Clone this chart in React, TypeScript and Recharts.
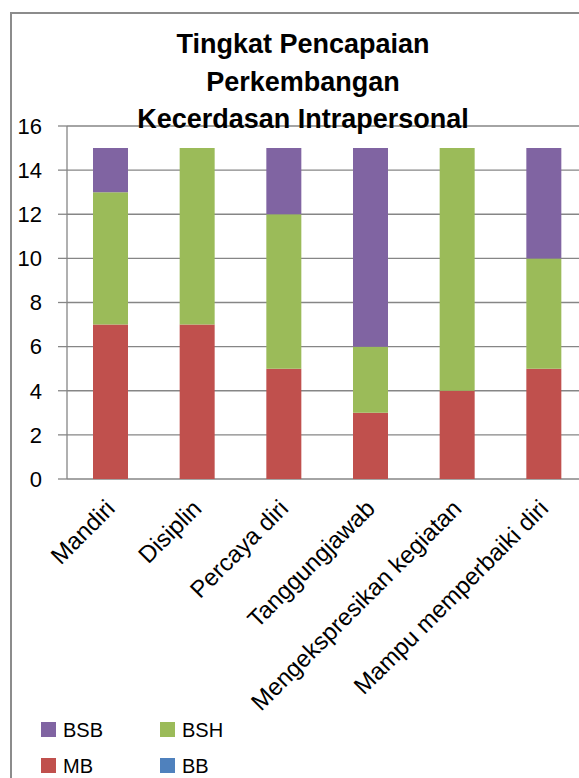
import React from "react";
import { BarChart, Bar, XAxis, YAxis, CartesianGrid } from "recharts";

const categories = [
  "Mandiri",
  "Disiplin",
  "Percaya diri",
  "Tanggungjawab",
  "Mengekspresikan kegiatan",
  "Mampu memperbaiki diri",
];
const bbValues = [0, 0, 0, 0, 0, 0];
const mbValues = [7, 7, 5, 3, 4, 5];
const bshValues = [6, 8, 7, 3, 11, 5];
const bsbValues = [2, 0, 3, 9, 0, 5];
const yTicks = [0, 2, 4, 6, 8, 10, 12, 14, 16];
const edgeTicks = [0, 1, 2, 3, 4, 5, 6];
const titleLines = ["Tingkat Pencapaian", "Perkembangan", "Kecerdasan Intrapersonal"];

const series = [
  { key: "BB", color: "#4F81BD" },
  { key: "MB", color: "#C0504D" },
  { key: "BSH", color: "#9BBB59" },
  { key: "BSB", color: "#8064A2" },
];
// legend order as drawn in the reference: BSB, BSH / MB, BB
const legendOrder = ["BSB", "BSH", "MB", "BB"];

const data = categories.map((name, i) => ({
  name,
  BB: bbValues[i],
  MB: mbValues[i],
  BSH: bshValues[i],
  BSB: bsbValues[i],
}));

const FONT = "'Liberation Sans', Arial, sans-serif";
const GRID = "#868686";

function CategoryTick({ x, y, payload }: any) {
  const ax = x + 6;
  const ay = y + 31;
  return (
    <text
      x={ax}
      y={ay}
      transform={`rotate(-45, ${ax}, ${ay})`}
      textAnchor="end"
      fontSize={24}
      fontFamily={FONT}
      fill="#000"
    >
      {payload.value}
    </text>
  );
}

export default function App() {
  return (
    <div
      style={{
        position: "absolute",
        left: 0,
        top: 0,
        width: 579,
        height: 778,
        overflow: "hidden",
        background: "#fff",
      }}
    >
      {/* chart frame, cut off on the right and bottom like the source */}
      <div
        style={{
          position: "absolute",
          left: 10,
          top: 12,
          width: 640,
          height: 820,
          border: "2px solid #8c8c8c",
        }}
      />

      <div style={{ position: "absolute", left: 0, top: 0 }}>
        <BarChart
          width={600}
          height={778}
          data={data}
          margin={{ top: 126, right: 13, left: 0, bottom: 0 }}
          barSize={35}
        >
          <CartesianGrid vertical={false} stroke={GRID} strokeWidth={1.3} xAxisId="cat" />
          <XAxis
            xAxisId="edges"
            type="number"
            domain={[0, 6]}
            ticks={edgeTicks}
            tick={false}
            tickSize={9}
            tickLine={{ stroke: GRID, strokeWidth: 1.3 }}
            axisLine={false}
            height={1}
          />
          <XAxis
            xAxisId="cat"
            dataKey="name"
            interval={0}
            tick={<CategoryTick />}
            tickLine={false}
            tickSize={0}
            tickMargin={0}
            axisLine={false}
            height={298}
          />
          <YAxis
            domain={[0, 16]}
            ticks={yTicks}
            width={67}
            tickSize={9}
            tickMargin={16}
            tickLine={{ stroke: GRID, strokeWidth: 1.3 }}
            axisLine={{ stroke: GRID, strokeWidth: 1.3 }}
            tick={{ fill: "#000", fontSize: 22, fontFamily: FONT }}
          />
          {series.map((s) => (
            <Bar
              key={s.key}
              dataKey={s.key}
              stackId="a"
              xAxisId="cat"
              fill={s.color}
              isAnimationActive={false}
            />
          ))}
        </BarChart>
      </div>

      <svg
        width={579}
        height={778}
        style={{ position: "absolute", left: 0, top: 0, pointerEvents: "none" }}
      >
        {titleLines.map((line, i) => (
          <text
            key={line}
            x={303}
            y={53 + i * 37.5}
            textAnchor="middle"
            fontSize={27}
            fontWeight="bold"
            fontFamily={FONT}
            fill="#000"
          >
            {line}
          </text>
        ))}
        {legendOrder.map((key, i) => {
          const s = series.find((d) => d.key === key)!;
          const col = i % 2;
          const row = Math.floor(i / 2);
          const lx = 41 + col * 119;
          const ly = 722 + row * 36;
          return (
            <g key={key}>
              <rect x={lx} y={ly} width={15} height={15} fill={s.color} />
              <text
                x={lx + 22}
                y={ly + 15}
                fontSize={20}
                fontFamily={FONT}
                fill="#000"
              >
                {key}
              </text>
            </g>
          );
        })}
      </svg>
    </div>
  );
}
